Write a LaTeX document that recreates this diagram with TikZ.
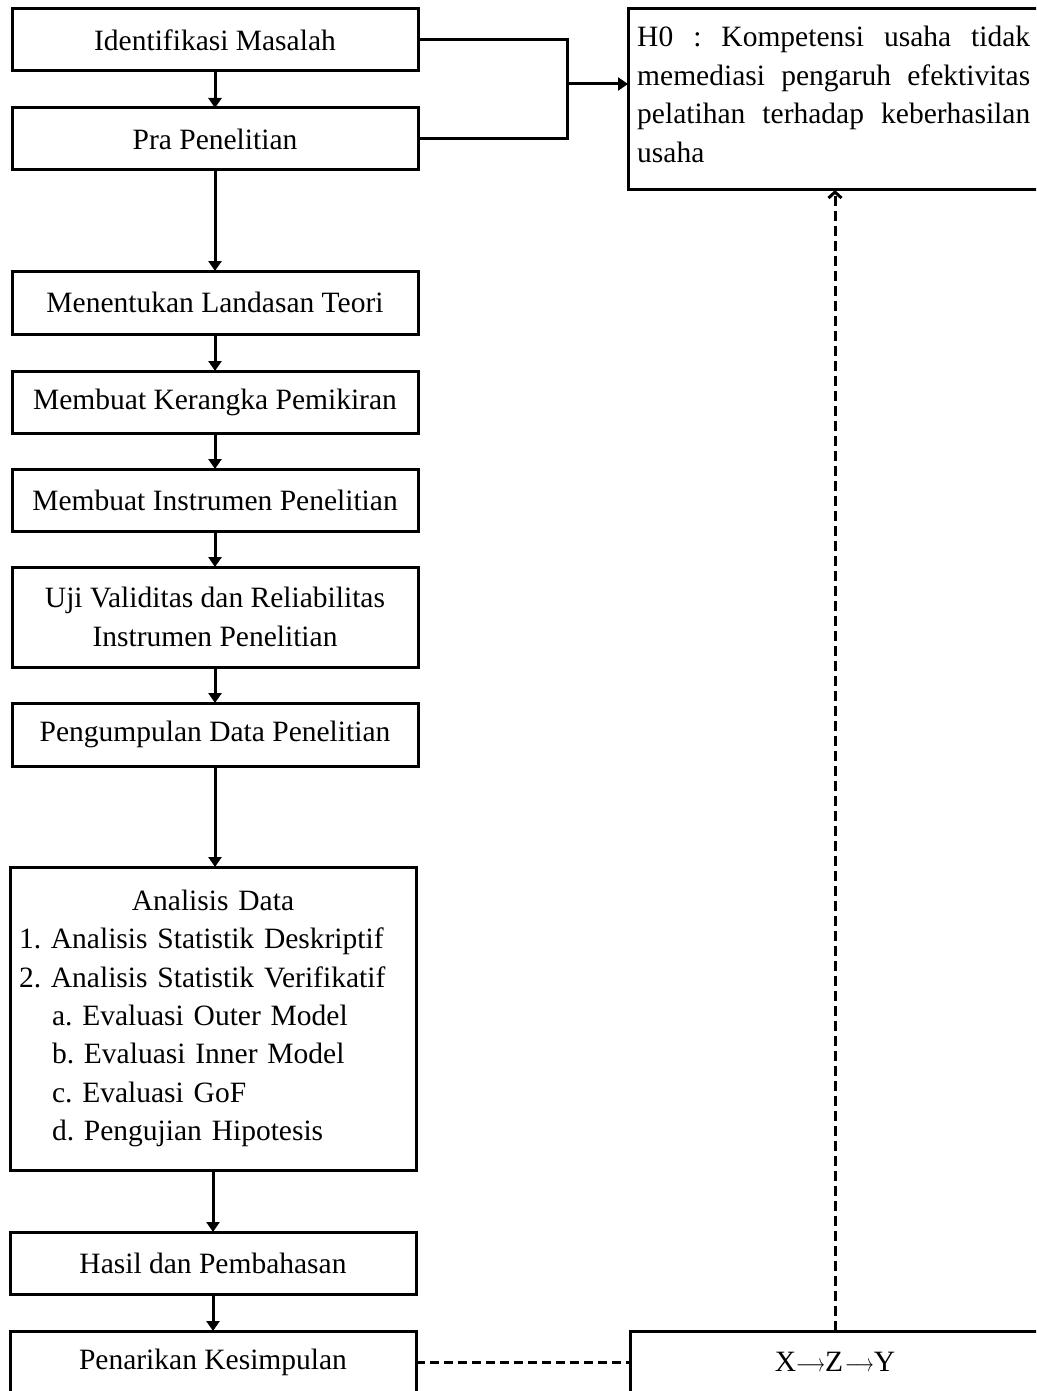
\documentclass[tikz,border=0pt]{standalone}
\usepackage{fontspec}
\setmainfont{Liberation Serif}
\usetikzlibrary{arrows.meta}
\frenchspacing
\newcommand{\mylongarrow}{\scalebox{0.72}[1]{$\longrightarrow$}}
\begin{document}
\begin{tikzpicture}[x=1pt,y=-1pt,
  box/.style={draw, line width=3pt, minimum width=406pt, minimum height=62pt, inner sep=0pt, outer sep=0pt, align=center, font=\fontsize{29.5}{38.4}\selectfont},
  conn/.style={line width=3pt, -{Triangle[length=10pt,width=13pt]}},
  plain/.style={line width=3pt},
  dash1/.style={line width=3pt, dash pattern=on 9pt off 5pt},
  dash2/.style={line width=3pt, dash pattern=on 10pt off 5pt, -{Straight Barb[length=6pt,width=13pt,line width=3pt]}}]
\useasboundingbox (0,0) rectangle (1036,1391);
\clip (0,0) rectangle (1036,1391);
\fill[white] (0,0) rectangle (1036,1391);
\node[box] (b1) at (215,40) {Identifikasi Masalah};
\node[box] (b2) at (215,139) {Pra Penelitian};
\node[box, minimum height=63pt] (b3) at (215,302.5) {Menentukan Landasan Teori};
\node[box] (b4) at (215,402) {Membuat Kerangka Pemikiran};
\node[box] (b5) at (215,500) {Membuat Instrumen Penelitian};
\node[box, minimum height=100pt] (b6) at (215,617) {Uji Validitas dan Reliabilitas\\Instrumen Penelitian};
\node[box, minimum height=63pt] (b7) at (215,734.5) {Pengumpulan Data Penelitian};
\node[box, minimum height=303pt, text width=388pt, align=left] (b8) at (213,1018.5) {\makebox[388pt]{Analisis Data}\\
1. Analisis Statistik Deskriptif\\
2. Analisis Statistik Verifikatif\\
\hspace*{33pt}a. Evaluasi Outer Model\\
\hspace*{33pt}b. Evaluasi Inner Model\\
\hspace*{33pt}c. Evaluasi GoF\\
\hspace*{33pt}d. Pengujian Hipotesis};
\node[box] (b9) at (213,1263) {Hasil dan Pembahasan};
\node[box] (b10) at (213,1362) {Penarikan Kesimpulan};
\node[box, minimum width=414pt, minimum height=181pt] (h0) at (835,99.5) {};
\node[anchor=north west, inner sep=0pt, align=left, font=\fontsize{29.5}{38.5}\selectfont] (h0t) at (637,26) {\makebox[393pt][s]{H0 : Kompetensi usaha tidak}\\
\makebox[393pt][s]{memediasi pengaruh efektivitas}\\
\makebox[393pt][s]{pelatihan terhadap keberhasilan}\\
usaha};
\node[box, minimum width=410pt] (xzy) at (835,1362) {X\mylongarrow Z\kern2pt\mylongarrow Y};
\coordinate (j) at (567,84);
\draw[plain] (b1.east) -| (j) |- (b2.east);
\draw[conn] (j) -- (j -| h0.west);
\draw[conn] (b1.south) -- (b2.north);
\draw[conn] (b2.south) -- (b3.north);
\draw[conn] (b3.south) -- (b4.north);
\draw[conn] (b4.south) -- (b5.north);
\draw[conn] (b5.south) -- (b6.north);
\draw[conn] (b6.south) -- (b7.north);
\draw[conn] (b7.south) -- (b7.south |- b8.north);
\draw[conn] (b8.south) -- (b9.north);
\draw[conn] (b9.south) -- (b10.north);
\draw[dash1] (b10.east) -- (xzy.west);
\draw[dash2] (xzy.north) -- (xzy.north |- h0.south);
\end{tikzpicture}
\end{document}
